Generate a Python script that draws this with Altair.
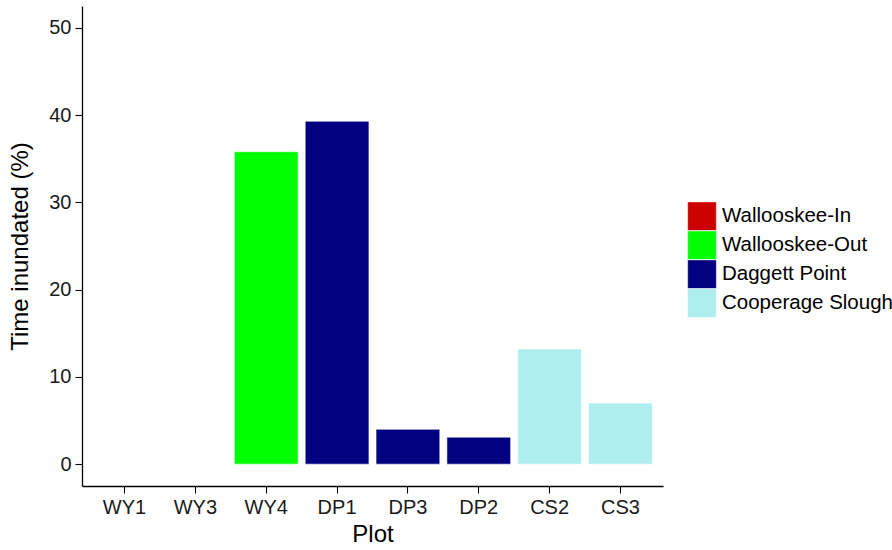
import altair as alt
import pandas as pd

# Percent of time each plot was inundated, grouped by site
plots = ["WY1", "WY3", "WY4", "DP1", "DP3", "DP2", "CS2", "CS3"]
sites = [
    "Wallooskee-In", "Wallooskee-In", "Wallooskee-Out",
    "Daggett Point", "Daggett Point", "Daggett Point",
    "Cooperage Slough", "Cooperage Slough",
]
inundated = [0.0, 0.0, 35.8, 39.3, 4.0, 3.1, 13.2, 7.0]

site_order = ["Wallooskee-In", "Wallooskee-Out", "Daggett Point", "Cooperage Slough"]
site_colors = ["#CD0000", "#00FF00", "#000080", "#AFEEEE"]
y_ticks = [0, 10, 20, 30, 40, 50]

df = pd.DataFrame({"Plot": plots, "Site": sites, "Inundated": inundated})

FONT = "Liberation Sans"

chart = (
    alt.Chart(df)
    .mark_bar(stroke="white", strokeWidth=0.6)
    .encode(
        x=alt.X(
            "Plot:N",
            sort=plots,
            title="Plot",
            scale=alt.Scale(paddingInner=0.1, paddingOuter=0.15),
            axis=alt.Axis(labelAngle=0, titlePadding=5),
        ),
        y=alt.Y(
            "Inundated:Q",
            title="Time inundated (%)",
            scale=alt.Scale(domain=[-2.5, 52.5], nice=False, zero=False),
            axis=alt.Axis(values=y_ticks, titlePadding=16),
        ),
        y2=alt.datum(0),
        color=alt.Color(
            "Site:N",
            title=None,
            scale=alt.Scale(domain=site_order, range=site_colors),
            legend=alt.Legend(
                orient="none",
                legendX=605,
                legendY=196,
                symbolType="square",
                symbolSize=824,
                symbolOpacity=1,
                symbolStrokeColor="white",
                symbolStrokeWidth=0.5,
                clipHeight=28.5,
                labelFont=FONT,
                labelFontSize=20.5,
                labelColor="#000000",
                labelOffset=5,
                labelLimit=0,
                rowPadding=0,
                padding=0,
            ),
        ),
    )
    .properties(
        width=581,
        height=480,
        padding={"left": 82, "top": 6, "right": 229, "bottom": 64},
        autosize=alt.AutoSizeParams(type="none"),
    )
    .configure_view(stroke=None)
    .configure_axis(
        grid=False,
        domainColor="#000000",
        domainWidth=1.3,
        tickColor="#000000",
        tickWidth=1.1,
        tickSize=7,
        labelFont=FONT,
        labelFontSize=20,
        labelColor="#1a1a1a",
        labelPadding=4,
        titleFont=FONT,
        titleFontSize=24,
        titleFontWeight="normal",
        titleColor="#000000",
    )
)

chart.save("out.html", embed_options={"renderer": "svg", "actions": False})
